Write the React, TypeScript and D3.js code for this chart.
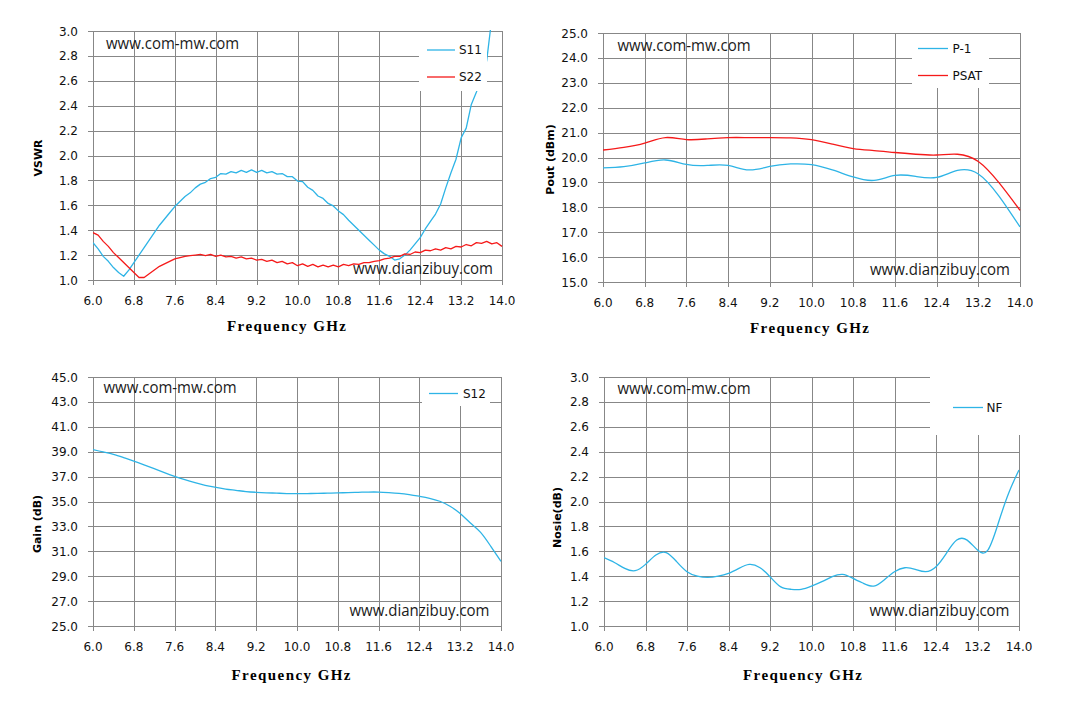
import React, { useEffect, useRef } from 'react';
import * as d3 from 'd3';

// x axis ticks (GHz), shared by all four panels
const freqTicks = [6.0, 6.8, 7.6, 8.4, 9.2, 10.0, 10.8, 11.6, 12.4, 13.2, 14.0];

// VSWR panel, sampled every 0.1 GHz
const freqFine = [
  6.0, 6.1, 6.2, 6.3, 6.4, 6.5, 6.6, 6.7, 6.8, 6.9,
  7.0, 7.1, 7.2, 7.3, 7.4, 7.5, 7.6, 7.7, 7.8, 7.9,
  8.0, 8.1, 8.2, 8.3, 8.4, 8.5, 8.6, 8.7, 8.8, 8.9,
  9.0, 9.1, 9.2, 9.3, 9.4, 9.5, 9.6, 9.7, 9.8, 9.9,
  10.0, 10.1, 10.2, 10.3, 10.4, 10.5, 10.6, 10.7, 10.8, 10.9,
  11.0, 11.1, 11.2, 11.3, 11.4, 11.5, 11.6, 11.7, 11.8, 11.9,
  12.0, 12.1, 12.2, 12.3, 12.4, 12.5, 12.6, 12.7, 12.8, 12.9,
  13.0, 13.1, 13.2, 13.3, 13.4, 13.5, 13.6, 13.7, 13.8, 13.9,
  14.0,
];
const s11 = [
  1.30, 1.25, 1.19, 1.15, 1.10, 1.06, 1.03, 1.08, 1.14, 1.20,
  1.26, 1.32, 1.38, 1.44, 1.49, 1.54, 1.59, 1.63, 1.67, 1.70,
  1.74, 1.77, 1.785, 1.815, 1.825, 1.855, 1.85, 1.87, 1.86, 1.88,
  1.865, 1.885, 1.865, 1.88, 1.86, 1.87, 1.85, 1.855, 1.83, 1.83,
  1.795, 1.79, 1.745, 1.72, 1.675, 1.655, 1.615, 1.595, 1.555, 1.525,
  1.48, 1.44, 1.40, 1.36, 1.32, 1.28, 1.24, 1.21, 1.19, 1.16,
  1.17, 1.20, 1.24, 1.29, 1.34, 1.41, 1.47, 1.53, 1.61, 1.74,
  1.86, 1.97, 2.14, 2.22, 2.41, 2.51, 2.62, 2.76, 3.10, 3.40,
  3.70,
];
const s22 = [
  1.38, 1.36, 1.31, 1.27, 1.22, 1.18, 1.14, 1.10, 1.06, 1.02,
  1.02, 1.05, 1.08, 1.11, 1.13, 1.15, 1.17, 1.18, 1.19, 1.195,
  1.20, 1.205, 1.195, 1.205, 1.19, 1.20, 1.185, 1.19, 1.175, 1.185,
  1.17, 1.175, 1.16, 1.165, 1.15, 1.16, 1.14, 1.15, 1.13, 1.14,
  1.115, 1.13, 1.11, 1.125, 1.105, 1.12, 1.105, 1.12, 1.105, 1.125,
  1.115, 1.13, 1.125, 1.14, 1.14, 1.15, 1.155, 1.17, 1.175, 1.19,
  1.19, 1.21, 1.205, 1.225, 1.22, 1.24, 1.235, 1.25, 1.24, 1.26,
  1.25, 1.27, 1.265, 1.285, 1.275, 1.30, 1.295, 1.31, 1.29, 1.30,
  1.27,
];

// output power panel, every 0.4 GHz
const freqCoarse = [6.0, 6.4, 6.8, 7.2, 7.6, 8.0, 8.4, 8.8, 9.2, 9.6, 10.0, 10.4, 10.8, 11.2, 11.6, 12.0, 12.4, 12.8, 13.2, 13.6, 14.0];
const p1 = [19.58, 19.63, 19.78, 19.90, 19.72, 19.68, 19.68, 19.50, 19.64, 19.74, 19.71, 19.50, 19.22, 19.08, 19.28, 19.24, 19.20, 19.48, 19.34, 18.44, 17.21];
const psat = [20.30, 20.41, 20.58, 20.80, 20.72, 20.75, 20.80, 20.80, 20.80, 20.79, 20.72, 20.54, 20.36, 20.28, 20.20, 20.13, 20.10, 20.13, 19.84, 18.98, 17.88];

// gain and noise panels, every 0.2 GHz
const freqMid = [
  6.0, 6.2, 6.4, 6.6, 6.8, 7.0, 7.2, 7.4, 7.6, 7.8,
  8.0, 8.2, 8.4, 8.6, 8.8, 9.0, 9.2, 9.4, 9.6, 9.8,
  10.0, 10.2, 10.4, 10.6, 10.8, 11.0, 11.2, 11.4, 11.6, 11.8,
  12.0, 12.2, 12.4, 12.6, 12.8, 13.0, 13.2, 13.4, 13.6, 13.8,
  14.0,
];
const s12 = [
  39.17, 38.98, 38.79, 38.53, 38.25, 37.95, 37.64, 37.32, 37.02, 36.75,
  36.51, 36.30, 36.14, 36.00, 35.90, 35.80, 35.74, 35.70, 35.67, 35.64,
  35.63, 35.64, 35.65, 35.67, 35.69, 35.72, 35.74, 35.76, 35.76, 35.72,
  35.66, 35.56, 35.42, 35.26, 35.02, 34.62, 34.03, 33.27, 32.52, 31.40,
  30.20,
];
const nf = [
  1.549, 1.51, 1.463, 1.444, 1.495, 1.57, 1.59, 1.517, 1.436, 1.40,
  1.39, 1.40, 1.423, 1.463, 1.495, 1.47, 1.396, 1.316, 1.295, 1.295,
  1.321, 1.356, 1.396, 1.415, 1.383, 1.343, 1.321, 1.37, 1.436, 1.468,
  1.455, 1.436, 1.476, 1.584, 1.69, 1.69, 1.61, 1.61, 1.825, 2.066,
  2.253,
];

const vswrTicks = [1.0, 1.2, 1.4, 1.6, 1.8, 2.0, 2.2, 2.4, 2.6, 2.8, 3.0];
const poutTicks = [15, 16, 17, 18, 19, 20, 21, 22, 23, 24, 25];
const gainTicks = [25, 27, 29, 31, 33, 35, 37, 39, 41, 43, 45];
const nfTicks = [1.0, 1.2, 1.4, 1.6, 1.8, 2.0, 2.2, 2.4, 2.6, 2.8, 3.0];

const BLUE = '#2eb4e6';
const RED = '#f51a1a';
const GRID = '#878787';
const TICK_FONT = '"DejaVu Sans", Verdana, sans-serif';
const WM_FONT = '"Open Sans", "Noto Sans", sans-serif';

interface Series { name: string; freq: number[]; values: number[]; color: string; smooth: boolean }
interface LegendRow { lineY: number; textY: number }
interface Panel {
  id: string;
  left: number; right: number; top: number; bottom: number;
  yDomain: [number, number]; yTicks: number[];
  yTitle: string; yTitleX: number; yTitleY: number;
  xTitleX: number; xTitleY: number;
  series: Series[];
  legendBox: [number, number, number, number];
  legendLine: [number, number]; legendTextX: number; legendRows: LegendRow[];
  wmTop: [number, number]; wmBottom: [number, number];
}

const panels: Panel[] = [
  {
    id: 'vswr', left: 93, right: 502, top: 31, bottom: 280,
    yDomain: [1, 3], yTicks: vswrTicks,
    yTitle: 'VSWR', yTitleX: 41.5, yTitleY: 158,
    xTitleX: 227, xTitleY: 331,
    series: [
      { name: 'S11', freq: freqFine, values: s11, color: BLUE, smooth: false },
      { name: 'S22', freq: freqFine, values: s22, color: RED, smooth: false },
    ],
    legendBox: [419, 32, 68, 59], legendLine: [427, 455], legendTextX: 459,
    legendRows: [{ lineY: 50, textY: 54 }, { lineY: 77, textY: 81 }],
    wmTop: [106, 48.5], wmBottom: [353, 274],
  },
  {
    id: 'pout', left: 603, right: 1020, top: 33, bottom: 282,
    yDomain: [15, 25], yTicks: poutTicks,
    yTitle: 'Pout (dBm)', yTitleX: 554, yTitleY: 159.5,
    xTitleX: 750, xTitleY: 333,
    series: [
      { name: 'P-1', freq: freqCoarse, values: p1, color: BLUE, smooth: true },
      { name: 'PSAT', freq: freqCoarse, values: psat, color: RED, smooth: true },
    ],
    legendBox: [912, 34, 77, 54], legendLine: [918, 948], legendTextX: 952.5,
    legendRows: [{ lineY: 48.5, textY: 52.5 }, { lineY: 75.5, textY: 80 }],
    wmTop: [617.5, 51], wmBottom: [870, 275],
  },
  {
    id: 'gain', left: 93, right: 501, top: 377, bottom: 626,
    yDomain: [25, 45], yTicks: gainTicks,
    yTitle: 'Gain (dB)', yTitleX: 41, yTitleY: 524,
    xTitleX: 231.5, xTitleY: 680,
    series: [
      { name: 'S12', freq: freqMid, values: s12, color: BLUE, smooth: true },
    ],
    legendBox: [422, 378, 68, 28], legendLine: [429, 458], legendTextX: 463,
    legendRows: [{ lineY: 393.5, textY: 398 }],
    wmTop: [103.5, 393], wmBottom: [349.5, 616],
  },
  {
    id: 'nf', left: 604, right: 1019, top: 377, bottom: 626,
    yDomain: [1, 3], yTicks: nfTicks,
    yTitle: 'Nosie(dB)', yTitleX: 561, yTitleY: 517.5,
    xTitleX: 743, xTitleY: 680,
    series: [
      { name: 'NF', freq: freqMid, values: nf, color: BLUE, smooth: true },
    ],
    legendBox: [930, 376, 91, 59], legendLine: [953, 983], legendTextX: 986.5,
    legendRows: [{ lineY: 407.5, textY: 412 }],
    wmTop: [617.5, 394], wmBottom: [869.5, 616],
  },
];

export default function App() {
  const svgRef = useRef<SVGSVGElement>(null);

  useEffect(() => {
    const svg = d3.select(svgRef.current);
    svg.selectAll('*').remove();
    const defs = svg.append('defs');

    panels.forEach(p => {
      const x = d3.scaleLinear().domain([6, 14]).range([p.left, p.right]);
      const y = d3.scaleLinear().domain(p.yDomain).range([p.bottom, p.top]);
      const crisp = (v: number) => Math.round(v) + 0.5;
      const g = svg.append('g');

      // grid + ticks
      p.yTicks.forEach(t => {
        g.append('line')
          .attr('x1', p.left - 5).attr('x2', p.right + 0.5)
          .attr('y1', crisp(y(t))).attr('y2', crisp(y(t)))
          .attr('stroke', GRID).attr('stroke-width', 1);
        g.append('text')
          .attr('x', p.left - 15).attr('y', y(t) + 4.5)
          .attr('text-anchor', 'end')
          .style('font-family', TICK_FONT).style('font-size', '12px').style('fill', '#111')
          .text(d3.format('.1f')(t));
      });
      freqTicks.forEach(t => {
        g.append('line')
          .attr('x1', crisp(x(t))).attr('x2', crisp(x(t)))
          .attr('y1', p.top).attr('y2', p.bottom + 5)
          .attr('stroke', GRID).attr('stroke-width', 1);
        g.append('text')
          .attr('x', x(t)).attr('y', p.bottom + 25)
          .attr('text-anchor', 'middle')
          .style('font-family', TICK_FONT).style('font-size', '12px').style('fill', '#111')
          .text(d3.format('.1f')(t));
      });

      // series
      defs.append('clipPath').attr('id', `clip-${p.id}`)
        .append('rect')
        .attr('x', p.left).attr('y', p.top - 1)
        .attr('width', p.right - p.left + 1).attr('height', p.bottom - p.top + 2);

      p.series.forEach(s => {
        const pts = s.freq.map((f, i) => [f, s.values[i]] as [number, number]);
        const line = d3.line<[number, number]>()
          .x(d => x(d[0]))
          .y(d => y(d[1]))
          .curve(s.smooth ? d3.curveNatural : d3.curveLinear);
        g.append('path')
          .datum(pts)
          .attr('clip-path', `url(#clip-${p.id})`)
          .attr('fill', 'none')
          .attr('stroke', s.color)
          .attr('stroke-width', 1.3)
          .attr('stroke-linejoin', 'round')
          .attr('d', line);
      });

      // watermarks
      g.append('text')
        .attr('x', p.wmTop[0]).attr('y', p.wmTop[1])
        .attr('textLength', 133).attr('lengthAdjust', 'spacingAndGlyphs')
        .style('font-family', WM_FONT).style('font-size', '16px').style('fill', '#1a1a1a')
        .text('www.com-mw.com');
      g.append('text')
        .attr('x', p.wmBottom[0]).attr('y', p.wmBottom[1])
        .attr('textLength', 140).attr('lengthAdjust', 'spacingAndGlyphs')
        .style('font-family', WM_FONT).style('font-size', '16px').style('fill', '#1a1a1a')
        .text('www.dianzibuy.com');

      // legend
      const [bx, by, bw, bh] = p.legendBox;
      g.append('rect')
        .attr('x', bx).attr('y', by).attr('width', bw).attr('height', bh)
        .attr('fill', '#fff');
      p.series.forEach((s, i) => {
        const row = p.legendRows[i];
        g.append('line')
          .attr('x1', p.legendLine[0]).attr('x2', p.legendLine[1])
          .attr('y1', row.lineY).attr('y2', row.lineY)
          .attr('stroke', s.color).attr('stroke-width', 1.3);
        g.append('text')
          .attr('x', p.legendTextX).attr('y', row.textY)
          .style('font-family', TICK_FONT).style('font-size', '12px').style('fill', '#111')
          .text(s.name);
      });

      // axis titles
      g.append('text')
        .attr('transform', `translate(${p.yTitleX},${p.yTitleY}) rotate(-90)`)
        .attr('text-anchor', 'middle')
        .style('font-family', TICK_FONT).style('font-size', '11px').style('font-weight', 'bold')
        .style('fill', '#000')
        .text(p.yTitle);
      g.append('text')
        .attr('x', p.xTitleX).attr('y', p.xTitleY)
        .attr('textLength', 119).attr('lengthAdjust', 'spacing')
        .style('font-family', '"Liberation Serif", "DejaVu Serif", serif')
        .style('font-size', '15px').style('font-weight', 'bold').style('fill', '#000')
        .text('Frequency GHz');
    });
  }, []);

  return (
    <svg
      ref={svgRef}
      width={1080}
      height={706}
      style={{ position: 'absolute', left: 0, top: 0, background: '#fff' }}
    />
  );
}
